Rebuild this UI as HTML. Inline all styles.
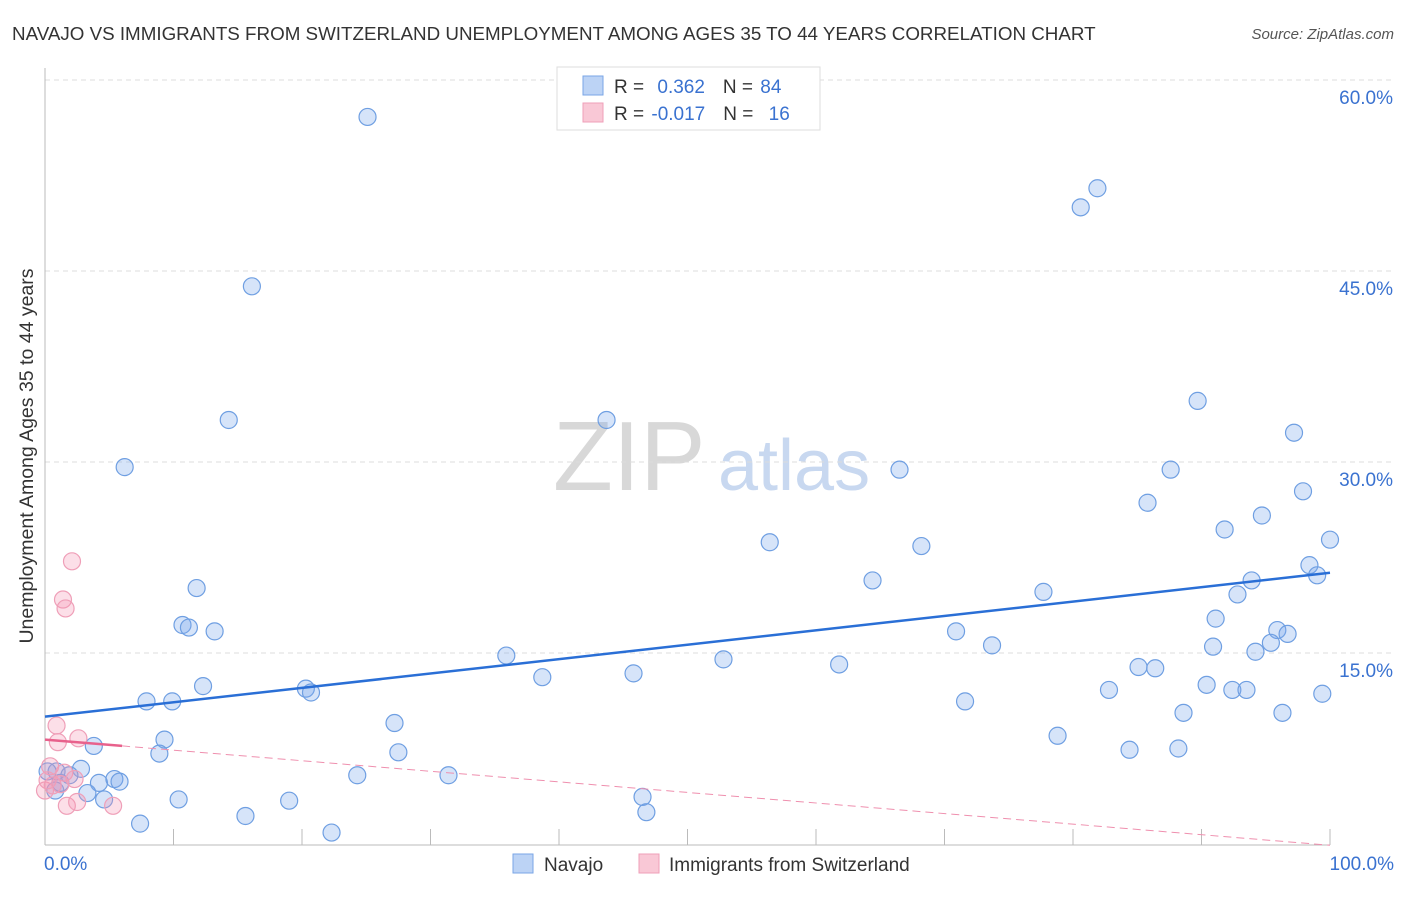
<!DOCTYPE html>
<html><head><meta charset="utf-8"><style>
body{margin:0;background:#fff;font-family:"Liberation Sans",sans-serif}
svg text{font-family:"Liberation Sans",sans-serif}
</style></head><body>
<svg id="c" width="1406" height="892">
<text x="12" y="40" font-size="18.8" fill="#333">NAVAJO VS IMMIGRANTS FROM SWITZERLAND UNEMPLOYMENT AMONG AGES 35 TO 44 YEARS CORRELATION CHART</text>
<text x="1394" y="39" font-size="15" fill="#555" font-style="italic" text-anchor="end">Source: ZipAtlas.com</text>
<g><text x="553" y="490" font-size="98" font-family="Liberation Serif" fill="#d8d8d8">ZIP</text><text x="718" y="490" font-size="72" fill="#c8d8f0">atlas</text></g>
<g id="grid"></g><g id="axes"></g><g id="pts"></g><g id="trend"></g>
<text x="33" y="456" font-size="19.5" fill="#333" text-anchor="middle" transform="rotate(-90 33 456)">Unemployment Among Ages 35 to 44 years</text>
<g>
<rect x="557" y="67" width="263" height="63" fill="#fff" stroke="#ddd"/>
<rect x="583" y="76" width="20" height="19" fill="#bcd3f5" stroke="#7aa6e6"/>
<rect x="583" y="103" width="20" height="19" fill="#f9c8d6" stroke="#ef9fb8"/>
<text x="614" y="93" font-size="19" fill="#333">R = <tspan fill="#3a72d0" dx="8">0.362</tspan><tspan dx="18">N = </tspan><tspan fill="#3a72d0" dx="2">84</tspan></text>
<text x="614" y="120" font-size="19" fill="#333">R = <tspan fill="#3a72d0" dx="2">-0.017</tspan><tspan dx="18">N = </tspan><tspan fill="#3a72d0" dx="10">16</tspan></text>
</g>
<g>
<rect x="513" y="854" width="20" height="19" fill="#bcd3f5" stroke="#7aa6e6"/>
<text x="544" y="871" font-size="19" fill="#333">Navajo</text>
<rect x="639" y="854" width="20" height="19" fill="#f9c8d6" stroke="#ef9fb8"/>
<text x="669" y="871" font-size="19" fill="#333">Immigrants from Switzerland</text>
</g>
</svg>
<script>
const yTicks=[15,30,45,60];
const yTickLabels=["15.0%","30.0%","45.0%","60.0%"];
const xTickLabels=["0.0%","100.0%"];
const navajoX=[25.1,16.1,81.9,80.6,14.3,6.2,43.7,66.5,89.7,97.2,87.6,85.8,94.7,97.9,91.8,100,56.4,68.2,98.4,99.0,93.9,92.8,64.4,77.7,11.8,10.7,11.2,13.2,91.1,70.9,95.9,96.7,95.4,73.7,90.9,94.2,35.9,52.8,61.8,85.1,86.4,38.7,45.8,12.3,20.3,20.7,7.9,9.9,82.8,90.4,92.4,93.5,71.6,99.4,96.3,88.6,27.2,9.3,3.8,8.9,27.5,78.8,84.4,88.2,2.8,0.9,4.2,5.4,5.8,24.3,31.4,0.2,0.8,3.3,4.6,10.4,19.0,46.5,7.4,15.6,22.3,46.8,1.2,1.9];
const navajoY=[57.1,43.8,51.5,50.0,33.3,29.6,33.3,29.4,34.8,32.3,29.4,26.8,25.8,27.7,24.7,23.9,23.7,23.4,21.9,21.1,20.7,19.6,20.7,19.8,20.1,17.2,17.0,16.7,17.7,16.7,16.8,16.5,15.8,15.6,15.5,15.1,14.8,14.5,14.1,13.9,13.8,13.1,13.4,12.4,12.2,11.9,11.2,11.2,12.1,12.5,12.1,12.1,11.2,11.8,10.3,10.3,9.5,8.2,7.7,7.1,7.2,8.5,7.4,7.5,5.9,5.7,4.8,5.1,4.9,5.4,5.4,5.7,4.2,4.0,3.5,3.5,3.4,3.7,1.6,2.2,0.9,2.5,4.8,5.4];
const swissX=[2.1,1.4,1.6,0.9,1.0,2.6,0.4,1.5,2.3,0,0.6,1.7,2.5,5.3,0.2,1.2];
const swissY=[22.2,19.2,18.5,9.3,8.0,8.3,6.1,5.6,5.1,4.2,4.6,3.0,3.3,3.0,5.0,4.7];
const navajoTrend=[10.0,21.3];
const swissTrend=[8.2,-0.1];
const NS="http://www.w3.org/2000/svg";
const X=v=>45+v*12.85, Y=v=>844-v*12.733;
function mk(t,a,p){const e=document.createElementNS(NS,t);for(const k in a)e.setAttribute(k,a[k]);p.appendChild(e);return e;}
const grid=document.getElementById('grid'),axes=document.getElementById('axes'),pts=document.getElementById('pts'),tr=document.getElementById('trend');
yTicks.forEach((v,i)=>{
 const l=mk('line',{x1:45,x2:1394,y1:Y(v),y2:Y(v),stroke:'#ddd','stroke-dasharray':'5,4'},grid);
 
 
 const t=mk('text',{x:1393,y:Y(v)+24,'font-size':19,fill:'#3a72d0','text-anchor':'end'},axes);
 t.textContent=yTickLabels[i];
 
 
});
let a=mk('line',{x1:45,x2:45,y1:68,y2:845,stroke:'#bbb'},axes);


a=mk('line',{x1:45,x2:1330,y1:845,y2:845,stroke:'#bbb'},axes);


for(let i=1;i<=10;i++){const t=mk('line',{x1:X(i*10),x2:X(i*10),y1:829,y2:845,stroke:'#bbb'},axes);
 
 }
[[0,'start',44],[100,'end',1394]].forEach((d,i)=>{const t=mk('text',{x:d[2],y:870,'font-size':19,fill:'#3a72d0','text-anchor':d[1]},axes);t.textContent=xTickLabels[i];
 
 });
navajoX.forEach((x,i)=>{const c=mk('circle',{cx:X(x),cy:Y(navajoY[i]),r:8.5,fill:'rgba(120,165,235,0.3)',stroke:'#6f9fe2','stroke-width':1.2},pts);
 
 });
swissX.forEach((x,i)=>{const c=mk('circle',{cx:X(x),cy:Y(swissY[i]),r:8.5,fill:'rgba(245,150,180,0.3)',stroke:'#ef9fb8','stroke-width':1.2},pts);
 
 });
let l=mk('line',{x1:X(0),y1:Y(navajoTrend[0]),x2:X(100),y2:Y(navajoTrend[1]),stroke:'#2a6fd6','stroke-width':2.5},tr);


const sy=x=>swissTrend[0]+(swissTrend[1]-swissTrend[0])*x/100;
l=mk('line',{x1:X(0),y1:Y(sy(0)),x2:X(6),y2:Y(sy(6)),stroke:'#e8618c','stroke-width':2.5},tr);


l=mk('line',{x1:X(6),y1:Y(sy(6)),x2:X(100),y2:Y(sy(100)),stroke:'#ef8fae','stroke-width':1,'stroke-dasharray':'8,5'},tr);


</script>
</body></html>
